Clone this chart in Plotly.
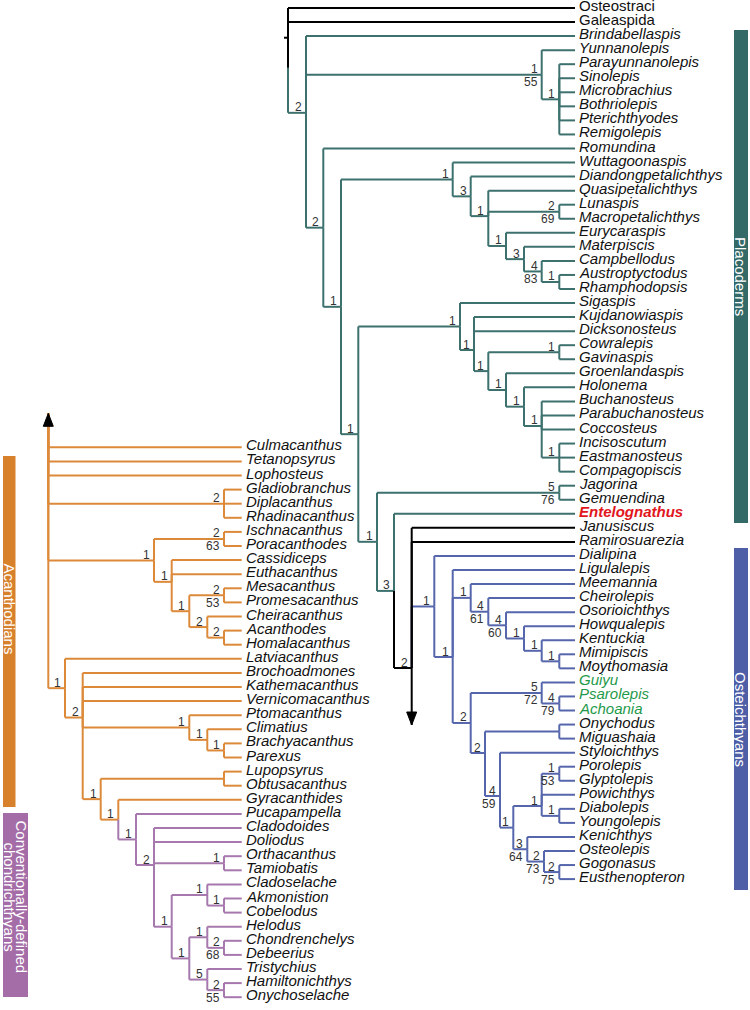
import plotly.graph_objects as go

# ---------------- data ----------------
right_leaves = ["Osteostraci", "Galeaspida", "Brindabellaspis", "Yunnanolepis", "Parayunnanolepis",
                "Sinolepis", "Microbrachius", "Bothriolepis", "Pterichthyodes", "Remigolepis",
                "Romundina", "Wuttagoonaspis", "Diandongpetalichthys", "Quasipetalichthys", "Lunaspis",
                "Macropetalichthys", "Eurycaraspis", "Materpiscis", "Campbellodus", "Austroptyctodus",
                "Rhamphodopsis", "Sigaspis", "Kujdanowiaspis", "Dicksonosteus", "Cowralepis",
                "Gavinaspis", "Groenlandaspis", "Holonema", "Buchanosteus", "Parabuchanosteus",
                "Coccosteus", "Incisoscutum", "Eastmanosteus", "Compagopiscis", "Jagorina",
                "Gemuendina", "Entelognathus", "Janusiscus", "Ramirosuarezia", "Dialipina",
                "Ligulalepis", "Meemannia", "Cheirolepis", "Osorioichthys", "Howqualepis",
                "Kentuckia", "Mimipiscis", "Moythomasia", "Guiyu", "Psarolepis", "Achoania",
                "Onychodus", "Miguashaia", "Styloichthys", "Porolepis", "Glyptolepis", "Powichthys",
                "Diabolepis", "Youngolepis", "Kenichthys", "Osteolepis", "Gogonasus", "Eusthenopteron"]

left_leaves = ["Culmacanthus", "Tetanopsyrus", "Lophosteus", "Gladiobranchus", "Diplacanthus",
               "Rhadinacanthus", "Ischnacanthus", "Poracanthodes", "Cassidiceps", "Euthacanthus",
               "Mesacanthus", "Promesacanthus", "Cheiracanthus", "Acanthodes", "Homalacanthus",
               "Latviacanthus", "Brochoadmones", "Kathemacanthus", "Vernicomacanthus", "Ptomacanthus",
               "Climatius", "Brachyacanthus", "Parexus", "Lupopsyrus", "Obtusacanthus", "Gyracanthides",
               "Pucapampella", "Cladodoides", "Doliodus", "Orthacanthus", "Tamiobatis", "Cladoselache",
               "Akmonistion", "Cobelodus", "Helodus", "Chondrenchelys", "Debeerius", "Tristychius",
               "Hamiltonichthys", "Onychoselache"]

upright_names = ["Osteostraci", "Galeaspida"]
red_names = ["Entelognathus"]
green_names = ["Guiyu", "Psarolepis", "Achoania"]

groups = ["Placoderms", "Osteichthyans", "Acanthodians", "Conventionally-defined|chondrichthyans"]

BLACK = "#000000"
TEAL = "#3C716E"
BLUE = "#5566AC"
ORANGE = "#DC8A3A"
PURPLE = "#A678AD"
BAR_COLORS = ["#336966", "#4E5EA7", "#D8812D", "#A46DA7"]

# layout parameters (pixel space)
R_Y0, R_DY, R_TIP = 8.0, 14.05, 575.0
L_Y0, L_DY, L_TIP = 447.3, 14.1, 241.7


def N(x, kids, top="", bot="", color=None, ey=None, arrow=None, tick=0):
    return dict(x=x, kids=kids, top=top, bot=bot, color=color, ey=ey, arrow=arrow, tick=tick)


# ---- right tree (placoderms, osteichthyans) ----
ptyct = N(524, ["Materpiscis", N(541.7, ["Campbellodus", N(559.3, ["Austroptyctodus", "Rhamphodopsis"], "1")], "4", "83")], "3")
petal = N(452.7, ["Wuttagoonaspis", N(470.7, ["Diandongpetalichthys",
          N(488.3, ["Quasipetalichthys", N(559.3, ["Lunaspis", "Macropetalichthys"], "2", "69"),
                    N(506, ["Eurycaraspis", ptyct], "1")], "1")], "3")], "1")
coccost = N(541.7, ["Buchanosteus", "Parabuchanosteus", "Coccosteus",
                    N(559.3, ["Incisoscutum", "Eastmanosteus", "Compagopiscis"], "1")], "1")
arthro = N(460, ["Sigaspis", N(474, ["Kujdanowiaspis", "Dicksonosteus",
           N(488.3, [N(559.3, ["Cowralepis", "Gavinaspis"], "1"),
                     N(506, ["Groenlandaspis", N(524, ["Holonema", coccost], "1")], "1")], "1")],
           "1", ey=350)], "1")
actino = N(470.7, ["Meemannia", N(488.3, ["Cheirolepis", N(506, ["Osorioichthys",
           N(524, ["Howqualepis", N(541.7, ["Kentuckia", N(559.3, ["Mimipiscis", "Moythomasia"], "1")], "1")], "1")],
           "4", "60")], "4", "61")], "1")
porol = N(541.7, [N(559.3, ["Porolepis", "Glyptolepis"], "1", "53"), "Powichthys",
                  N(559.3, ["Diabolepis", "Youngolepis"], "1")], "1", ey=806)
tetrapodo = N(527.3, ["Kenichthys", N(544, ["Osteolepis", N(559.3, ["Gogonasus", "Eusthenopteron"], "2", "75")], "2", "73")], "3", "64")
sarco = N(470.7, [N(541.7, ["Guiyu", N(559.3, ["Psarolepis", "Achoania"], "4", "79")], "5", "72"),
                  N(485, [N(559.3, ["Onychodus", "Miguashaia"]),
                          N(500, ["Styloichthys", N(513.3, [porol, tetrapodo], "1")], "4", "59", ey=796)],
                    "2", ey=753)], "2")
osteich = N(434.3, ["Dialipina", N(452.7, ["Ligulalepis", actino, sarco], "1", ey=657)], "1", color=BLUE)
crown = N(411.7, ["Janusiscus", "Ramirosuarezia", osteich], "2", color=BLACK, ey=668, arrow=725)
right_tree = N(288, ["Osteostraci", N(288, ["Galeaspida", N(306, [
    "Brindabellaspis",
    N(541.7, ["Yunnanolepis", N(559.3, ["Parayunnanolepis", "Sinolepis", "Microbrachius", "Bothriolepis",
                                        "Pterichthyodes", "Remigolepis"], "1")], "1", "55"),
    N(323.3, ["Romundina", N(341, [petal, N(358.3, [arthro,
        N(377, [N(559.3, ["Jagorina", "Gemuendina"], "5", "76"),
                N(394, ["Entelognathus", crown], "3")], "1")], "1")], "1")], "2")],
    "2", color=TEAL)])], color=BLACK, tick=4)

# ---- left tree (acanthodians, chondrichthyans) ----
chond = N(136, ["Pucapampella", N(154, ["Cladodoides", "Doliodus",
          N(224, ["Orthacanthus", "Tamiobatis"], "1"),
          N(171.7, [N(207.3, ["Cladoselache", N(224, ["Akmonistion", "Cobelodus"], "1")], "1"),
                    N(189.3, [N(207.3, ["Helodus", N(224, ["Chondrenchelys", "Debeerius"], "2", "68")], "1"),
                              N(207.3, ["Tristychius", N(224, ["Hamiltonichthys", "Onychoselache"], "2", "55")], "5")],
                      "1")], "1")], "2")], "1", color=PURPLE)
left_tree = N(48.3, ["Culmacanthus", "Tetanopsyrus", "Lophosteus",
    N(224, ["Gladiobranchus", "Diplacanthus", "Rhadinacanthus"], "2"),
    N(154, [N(224, ["Ischnacanthus", "Poracanthodes"], "2", "63"),
            N(171.7, ["Cassidiceps", "Euthacanthus",
                      N(189.3, [N(224, ["Mesacanthus", "Promesacanthus"], "2", "53"),
                                N(207.3, ["Cheiracanthus", N(224, ["Acanthodes", "Homalacanthus"], "2")], "2")], "1")],
              "1")], "1"),
    N(65, ["Latviacanthus", N(82.7, ["Brochoadmones", "Kathemacanthus", "Vernicomacanthus",
        N(189.3, ["Ptomacanthus", N(207.3, ["Climatius", N(224, ["Brachyacanthus", "Parexus"], "1")], "1")], "1"),
        N(100.7, [N(224, ["Lupopsyrus", "Obtusacanthus"]), N(118.3, ["Gyracanthides", chond], "1")], "1")],
        "2")], "1")],
    color=ORANGE, ey=413.3, arrow=413.3)

# bars: (x0, x1, y0, y1, label x-centres, label y-centre)
bar_x = [(734, 748), (734, 748), (3, 15.5), (3, 28)]
bar_y = [(30, 523), (548, 890), (456, 807), (813, 997)]
label_x = [[741], [741], [9.5], [21.5, 9.5]]
label_y = [276, 719, 609, 897]

# ---------------- drawing ----------------
leafy = {}
for i, n in enumerate(right_leaves):
    leafy[n] = R_Y0 + i * R_DY
for i, n in enumerate(left_leaves):
    leafy[n] = L_Y0 + i * L_DY

segs = {}
annos = []
arrows = []


def add(color, x0, y0, x1, y1):
    xs, ys = segs.setdefault(color, ([], []))
    xs += [x0, x1, None]
    ys += [y0, y1, None]


def entry(node):
    if isinstance(node, str):
        return leafy[node]
    if node["ey"] is not None:
        return node["ey"]
    ys = [entry(k) for k in node["kids"]]
    return sum(ys) / len(ys)


def leaf_label(name, tip, color):
    txt = name
    fcol = "#111111"
    if name in red_names:
        txt = "<b><i>%s</i></b>" % name
        fcol = "#E2161D"
    elif name in green_names:
        txt = "<i>%s</i>" % name
        fcol = "#1F9A4B"
    elif name not in upright_names:
        txt = "<i>%s</i>" % name
    annos.append(dict(x=tip + 3, y=leafy[name] - 2.5, text=txt, xanchor="left", yanchor="middle",
                      showarrow=False, borderpad=0,
                      font=dict(family="Liberation Sans, Arial", size=15, color=fcol)))


def draw(node, color, px, tip):
    if isinstance(node, str):
        y = leafy[node]
        add(color, px, y, tip, y)
        leaf_label(node, tip, color)
        return
    c = node["color"] or color
    e = entry(node)
    x = node["x"]
    if px is not None:
        add(c, px, e, x, e)
    if node["tick"]:
        add(c, x - node["tick"], e, x, e)
    for k in node["kids"]:
        kc = c if isinstance(k, str) else (k["color"] or c)
        add(kc, x, e, x, entry(k))
        draw(k, c, x, tip)
    if node["arrow"] is not None:
        add(BLACK, x, e, x, node["arrow"])
        arrows.append((x, node["arrow"], 1 if node["arrow"] > e else -1))
    for txt, dy in ((node["top"], -5.5), (node["bot"], 7.5)):
        if txt and px is not None:
            annos.append(dict(x=x - 3, y=e + dy, text=txt, xanchor="right", yanchor="middle",
                              showarrow=False, borderpad=0,
                              font=dict(family="Liberation Sans, Arial", size=12, color="#333333")))


draw(right_tree, BLACK, None, R_TIP)
draw(left_tree, ORANGE, None, L_TIP)

fig = go.Figure()
for col in [TEAL, BLUE, ORANGE, PURPLE, BLACK]:
    if col in segs:
        xs, ys = segs[col]
        fig.add_trace(go.Scatter(x=xs, y=ys, mode="lines", line=dict(color=col, width=2),
                                 hoverinfo="skip", showlegend=False))

# arrowheads
for ax, ay, d in arrows:
    h, w = 13, 5
    fig.add_trace(go.Scatter(x=[ax, ax - w, ax + w, ax], y=[ay, ay - d * h, ay - d * h, ay],
                             mode="lines", fill="toself", fillcolor=BLACK,
                             line=dict(color=BLACK, width=1), hoverinfo="skip", showlegend=False))

shapes = []
for i, g in enumerate(groups):
    (x0, x1), (y0, y1) = bar_x[i], bar_y[i]
    shapes.append(dict(type="rect", x0=x0, x1=x1, y0=y0, y1=y1, xref="x", yref="y",
                       fillcolor=BAR_COLORS[i], line=dict(width=0), layer="below"))
    for part, lx in zip(g.split("|"), label_x[i]):
        annos.append(dict(x=lx, y=label_y[i], text=part, textangle=90, showarrow=False,
                          xanchor="center", yanchor="middle", borderpad=0,
                          font=dict(family="Liberation Sans, Arial", size=15, color="white")))

fig.update_layout(width=750, height=1010, margin=dict(l=0, r=0, t=0, b=0),
                  paper_bgcolor="white", plot_bgcolor="white", showlegend=False,
                  xaxis=dict(range=[0, 750], visible=False, fixedrange=True),
                  yaxis=dict(range=[1010, 0], visible=False, fixedrange=True),
                  shapes=shapes, annotations=annos)
fig.write_html("out.html", config={"displayModeBar": False},
               post_script="document.body.style.margin='0';document.body.style.overflow='hidden';")
